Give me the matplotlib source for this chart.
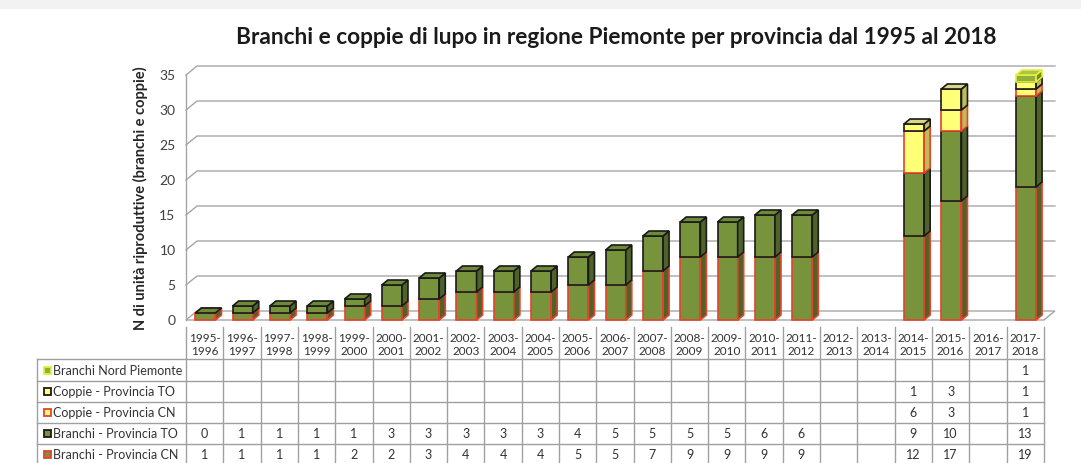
import numpy as np
import matplotlib.pyplot as plt
from matplotlib.patches import Polygon, Rectangle

plt.rcParams['font.family'] = ['Lato', 'DejaVu Sans']

# stagioni (colonne della tabella)
stagioni = ['1995-\n1996', '1996-\n1997', '1997-\n1998', '1998-\n1999', '1999-\n2000',
            '2000-\n2001', '2001-\n2002', '2002-\n2003', '2003-\n2004', '2004-\n2005',
            '2005-\n2006', '2006-\n2007', '2007-\n2008', '2008-\n2009', '2009-\n2010',
            '2010-\n2011', '2011-\n2012', '2012-\n2013', '2013-\n2014', '2014-\n2015',
            '2015-\n2016', '2016-\n2017', '2017-\n2018']
nan = np.nan
branchi_cn = [1, 1, 1, 1, 2, 2, 3, 4, 4, 4, 5, 5, 7, 9, 9, 9, 9, nan, nan, 12, 17, nan, 19]
branchi_to = [0, 1, 1, 1, 1, 3, 3, 3, 3, 3, 4, 5, 5, 5, 5, 6, 6, nan, nan, 9, 10, nan, 13]
coppie_cn = [nan] * 19 + [6, 3, nan, 1]
coppie_to = [nan] * 19 + [1, 3, nan, 1]
branchi_nord = [nan] * 22 + [1]

nomi = ['Branchi - Provincia CN', 'Branchi - Provincia TO', 'Coppie - Provincia CN',
        'Coppie - Provincia TO', 'Branchi Nord Piemonte']
serie = [branchi_cn, branchi_to, coppie_cn, coppie_to, branchi_nord]

verde, verde_lato, verde_top = '#77933C', '#4F6228', '#6D8A36'
giallo, giallo_lato, giallo_top = '#FFFF78', '#BDBD58', '#D8D882'
nord, nord_lato, nord_top = '#8FB03C', '#6A8A2A', '#A9C24A'
rosso, nero, giallo_bordo = '#E8412C', '#1A1A1A', '#E6EE3A'
stili = [(verde, verde_lato, verde_top, rosso),
         (verde, verde_lato, verde_top, nero),
         (giallo, giallo_lato, giallo_top, rosso),
         (giallo, giallo_lato, giallo_top, nero),
         (nord, nord_lato, nord_top, giallo_bordo)]

W, H = 1081, 464
col0, colw = 186, 37.3       # pixel del bordo sinistro della tabella e larghezza colonna
zero_px, unit_px = 321, 7.0  # pixel dello zero e pixel per unita'

fig = plt.figure(figsize=(W / 100, H / 100), dpi=100)
fig.patches.append(Rectangle((0, 1 - 9 / H), 1, 9 / H, transform=fig.transFigure,
                             color='#F2F2F2', zorder=0))


def rect(l, t, r, b):
    return [l / W, 1 - b / H, (r - l) / W, (b - t) / H]


xl = -0.5 - (col0 - 37) / colw
xr = -0.5 + (1075 - col0) / colw

ax = fig.add_axes(rect(37, 60, 1075, 330))
ax.set_xlim(xl, xr)
ax.set_ylim((zero_px - 330) / unit_px, (zero_px - 60) / unit_px)
ax.axis('off')

n = len(stagioni)
x0, x1 = -0.5, n - 0.5
# profondita' della parete e delle barre in unita' di dati
dxw, dyw = 11 / colw, 9 / unit_px
dxb, dyb = 6 / colw, 5 / unit_px
griglia = '#A6A6A6'

# pavimento e griglia di fondo
ax.add_patch(Polygon([(x0, 0), (x1, 0), (x1 + dxw, dyw), (x0 + dxw, dyw)], closed=True,
                     facecolor='white', edgecolor=griglia, lw=1, zorder=1))
for v in range(5, 40, 5):
    ax.plot([x0, x0 + dxw, x1 + dxw], [v, v + dyw, v + dyw], color=griglia, lw=1, zorder=1)
ax.plot([x0, x0], [0, 35], color=griglia, lw=1, zorder=1)
for v in range(0, 40, 5):
    ax.text(x0 - 0.28, v, str(v), ha='right', va='center', fontsize=10, color='#404040')

ax.text(-1.72, 17.6, 'N di unità riproduttive (branchi e coppie)', rotation=90,
        ha='center', va='center', fontsize=10.5, fontweight='bold', color='#262626')
fig.text(616 / W, 1 - 37 / H, 'Branchi e coppie di lupo in regione Piemonte per provincia dal 1995 al 2018',
         ha='center', va='center', fontsize=16.3, fontweight='bold', color='#1A1A1A')

# barre 3D impilate (un segmento nullo mostra solo la faccia superiore)
bl, br = -0.25, 0.29
for i in range(n):
    base = 0.0
    for vals, (fc, sc, tc, ec) in zip(serie, stili):
        v = vals[i]
        if np.isnan(v):
            continue
        a, b = i + bl, i + br
        y0, y1 = base, base + v
        z = 5 + i * 0.01
        if v > 0:
            ax.add_patch(Polygon([(a, y0), (b, y0), (b, y1), (a, y1)], closed=True,
                                 facecolor=fc, edgecolor=ec, lw=1.2, zorder=z))
            ax.add_patch(Polygon([(b, y0), (b + dxb, y0 + dyb), (b + dxb, y1 + dyb), (b, y1)], closed=True,
                                 facecolor=sc, edgecolor=ec, lw=1.2, zorder=z))
        ax.add_patch(Polygon([(a, y1), (b, y1), (b + dxb, y1 + dyb), (a + dxb, y1 + dyb)], closed=True,
                             facecolor=tc, edgecolor=ec, lw=1.2, zorder=z))
        base = y1

# tabella dei dati
tab = fig.add_axes(rect(37, 325, 1075, 464))
tab.set_xlim(xl, xr)
tab.set_ylim(464, 325)
tab.axis('off')

righe = [360, 382, 403, 424, 445, 466]
linea = '#A0A0A0'
for y in righe:
    tab.plot([xl, x1], [y, y], color=linea, lw=1, clip_on=False)
tab.plot([xl, xl], [360, 466], color=linea, lw=1, clip_on=False)
for k in range(n + 1):
    tab.plot([k - 0.5, k - 0.5], [328, 466], color=linea, lw=1, clip_on=False)

for i, s in enumerate(stagioni):
    tab.text(i, 345, s, ha='center', va='center', fontsize=8.5, color='#333333', linespacing=1.25)

ordine = [4, 3, 2, 1, 0]
for r, k in enumerate(ordine):
    yc = (righe[r] + righe[r + 1]) / 2
    fc, sc, tc, ec = stili[k]
    tab.add_patch(Rectangle((xl + 0.2, yc - 3.5), 0.17, 7, facecolor=fc, edgecolor=ec,
                            lw=1.3, clip_on=False))
    tab.text(xl + 0.42, yc, nomi[k], ha='left', va='center', fontsize=9, color='#333333')
    for i, v in enumerate(serie[k]):
        if not np.isnan(v):
            tab.text(i, yc, str(int(v)), ha='center', va='center', fontsize=9, color='#333333')

fig.savefig('out.png', dpi=100)
